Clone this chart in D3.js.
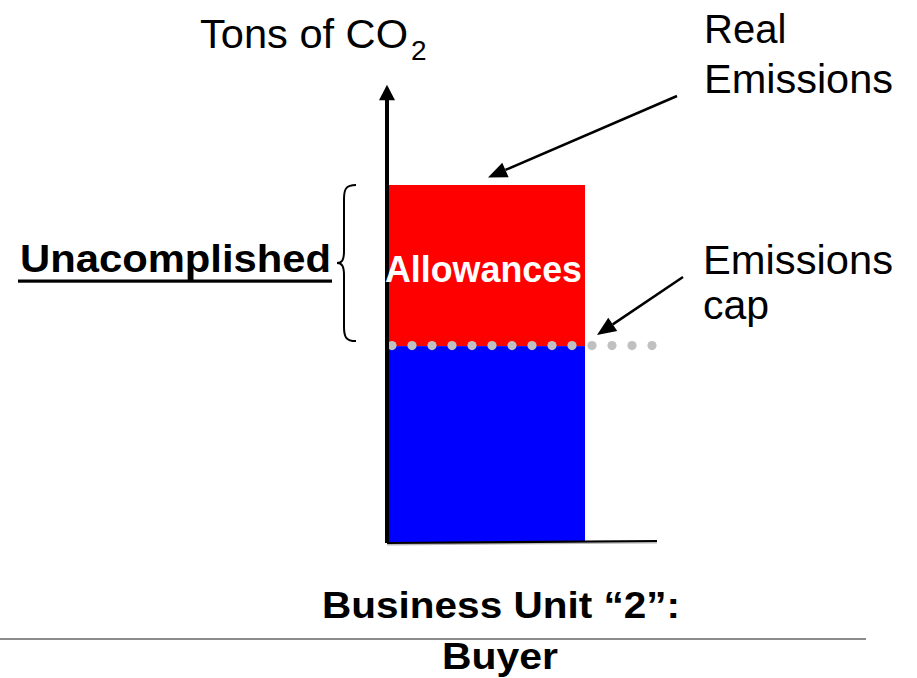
<!DOCTYPE html>
<html>
<head>
<meta charset="utf-8">
<script src="https://cdn.jsdelivr.net/npm/d3@7"></script>
<style>
  html, body { margin: 0; padding: 0; background: #fff; }
  svg { display: block; }
  text { font-family: "Liberation Sans", Arial, Helvetica, sans-serif; }
</style>
</head>
<body>
<svg id="chart" width="917" height="678"></svg>
<script>
// ---- data ----
const categories = ["Business Unit \u201c2\u201d: Buyer"];
const capValues = [55];          // emissions cap (blue part)
const realValues = [100];        // real emissions (total bar height)
const axisTitle = ["Tons of CO", "2"];
const barLabel = "Allowances";
const bracketLabel = "Unacomplished";
const realLabel = ["Real", "Emissions"];
const capLabel = ["Emissions", "cap"];
const xLabel = ["Business Unit \u201c2\u201d:", "Buyer"];

const svg = d3.select("#chart");

// ---- scales ----
const y = d3.scaleLinear().domain([0, 100]).range([543, 185]);
const x = d3.scaleBand().domain(categories).range([389, 585]).padding(0);
const axisX = 387;

// ---- bars ----
categories.forEach((c, i) => {
  svg.append("rect")
    .attr("x", x(c)).attr("width", x.bandwidth())
    .attr("y", y(realValues[i])).attr("height", y(capValues[i]) - y(realValues[i]))
    .attr("fill", "#ff0000");
  svg.append("rect")
    .attr("x", x(c)).attr("width", x.bandwidth())
    .attr("y", y(capValues[i])).attr("height", y(0) - y(capValues[i]))
    .attr("fill", "#0000ff");
});

// ---- cap dotted line ----
const capY = y(capValues[0]) - 0.5;
const dotXs = d3.range(392, 660, 20);
svg.append("g").selectAll("circle").data(dotXs).join("circle")
  .attr("cx", d => d).attr("cy", capY).attr("r", 4.6).attr("fill", "#c0c0c0");

// ---- axes ----
svg.append("line").attr("x1", axisX).attr("y1", y(0) + 1.5).attr("x2", 657).attr("y2", y(0) - 0.5)
  .attr("stroke", "#bbb").attr("stroke-width", 2);
svg.append("line").attr("x1", axisX).attr("y1", y(0)).attr("x2", 657).attr("y2", y(0) - 2)
  .attr("stroke", "#000").attr("stroke-width", 2.2);
const yTop = y(128);
svg.append("line").attr("x1", axisX).attr("y1", y(0)).attr("x2", axisX).attr("y2", yTop + 12)
  .attr("stroke", "#000").attr("stroke-width", 4);
svg.append("path")
  .attr("d", `M${axisX},${yTop} L${axisX - 8},${yTop + 15.5} L${axisX + 8},${yTop + 15.5} Z`)
  .attr("fill", "#000");

// ---- arrows ----
function arrow(x1, y1, x2, y2) {
  const ang = Math.atan2(y2 - y1, x2 - x1);
  const len = 19, half = 8;
  const bx = x2 - len * Math.cos(ang), by = y2 - len * Math.sin(ang);
  svg.append("line").attr("x1", x1).attr("y1", y1).attr("x2", bx).attr("y2", by)
    .attr("stroke", "#000").attr("stroke-width", 2.5);
  const px = -Math.sin(ang) * half, py = Math.cos(ang) * half;
  svg.append("path")
    .attr("d", `M${x2},${y2} L${bx + px},${by + py} L${bx - px},${by - py} Z`)
    .attr("fill", "#000");
}
arrow(677, 96, 488, 177.5);
arrow(683, 277, 597, 335);

// ---- brace ----
const bTop = y(realValues[0]), bBot = y(capValues[0]) - 5, bMid = (bTop + bBot) / 2;
svg.append("path")
  .attr("d", `M356,${bTop} C346,${bTop} 344,${bTop + 4} 344,${bTop + 14}
              L344,${bMid - 12} C344,${bMid - 3} 342,${bMid} 337,${bMid}
              C342,${bMid} 344,${bMid + 3} 344,${bMid + 12}
              L344,${bBot - 14} C344,${bBot - 4} 346,${bBot} 356,${bBot}`)
  .attr("fill", "none").attr("stroke", "#000").attr("stroke-width", 2);

// ---- texts ----
const t = svg.append("text").attr("x", 200).attr("y", 48).attr("font-size", 41).attr("fill", "#000");
t.append("tspan").attr("textLength", 208).attr("lengthAdjust", "spacingAndGlyphs").text(axisTitle[0]);
t.append("tspan").attr("dx", 3).attr("dy", 12).attr("font-size", 28).text(axisTitle[1]);

svg.append("text").attr("x", 704).attr("y", 43).attr("font-size", 40).text(realLabel[0]);
svg.append("text").attr("x", 704).attr("y", 93).attr("font-size", 40)
  .attr("textLength", 189).attr("lengthAdjust", "spacingAndGlyphs").text(realLabel[1]);

svg.append("text").attr("x", 703).attr("y", 274).attr("font-size", 41)
  .attr("textLength", 190).attr("lengthAdjust", "spacingAndGlyphs").text(capLabel[0]);
svg.append("text").attr("x", 703).attr("y", 319).attr("font-size", 41).text(capLabel[1]);

svg.append("text").attr("x", 20).attr("y", 272).attr("font-size", 38).attr("font-weight", "bold")
  .attr("textLength", 311).attr("lengthAdjust", "spacingAndGlyphs").text(bracketLabel);
svg.append("rect").attr("x", 18).attr("y", 279.5).attr("width", 314).attr("height", 3.2).attr("fill", "#000");

svg.append("text").attr("x", 385).attr("y", 282).attr("font-size", 36).attr("font-weight", "bold")
  .attr("fill", "#fff").attr("textLength", 197).attr("lengthAdjust", "spacingAndGlyphs").text(barLabel);

svg.append("line").attr("x1", 0).attr("x2", 866).attr("y1", 639).attr("y2", 639)
  .attr("stroke", "#8c8c8c").attr("stroke-width", 2);

svg.append("text").attr("x", 501).attr("y", 618).attr("font-size", 37).attr("font-weight", "bold")
  .attr("text-anchor", "middle").attr("textLength", 358).attr("lengthAdjust", "spacingAndGlyphs").text(xLabel[0]);
svg.append("text").attr("x", 500).attr("y", 669).attr("font-size", 36).attr("font-weight", "bold")
  .attr("text-anchor", "middle").attr("textLength", 116).attr("lengthAdjust", "spacingAndGlyphs").text(xLabel[1]);
</script>
</body>
</html>
